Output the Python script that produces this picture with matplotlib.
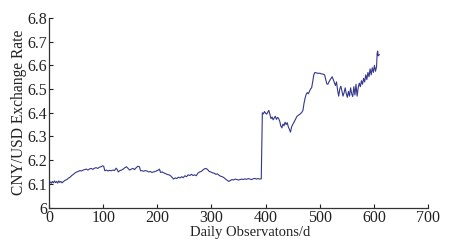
import matplotlib
matplotlib.use("Agg")
import matplotlib.pyplot as plt

days = [0, 2, 4, 6, 8, 10, 12, 14, 16, 18, 20, 22, 24, 26, 28, 30, 33, 36, 39, 42, 45, 48, 51, 54, 57, 60,
        63, 66, 69, 72, 75, 78, 81, 84, 87, 90, 93, 96, 99, 101, 103, 106, 109, 112, 115, 118, 121, 124, 126,
        128, 131, 134, 137, 140, 143, 146, 149, 152, 155, 158, 161, 164, 167, 169, 172, 175, 178, 181, 184,
        187, 190, 193, 196, 199, 202, 204, 206, 209, 212, 215, 218, 221, 224, 227, 230, 233, 236, 239, 242,
        245, 248, 251, 254, 257, 260, 263, 266, 269, 272, 275, 278, 281, 284, 287, 290, 293, 296, 299, 302,
        305, 308, 311, 314, 317, 320, 323, 326, 329, 332, 335, 338, 341, 344, 347, 350, 353, 356, 359, 362,
        365, 368, 371, 374, 377, 380, 383, 386, 389, 392, 393, 394, 396, 398, 400, 402, 404, 406, 408, 410,
        412, 414, 416, 418, 420, 422, 424, 426, 428, 430, 432, 434, 436, 438, 440, 442, 444, 446, 448, 450,
        452, 455, 458, 461, 464, 467, 469, 471, 473, 475, 477, 479, 481, 483, 485, 487, 489, 491, 494, 497,
        500, 503, 506, 509, 511, 513, 515, 517, 519, 521, 523, 525, 527, 529, 531, 533, 535, 537, 539, 541,
        543, 545, 547, 549, 551, 553, 555, 557, 559, 561, 563, 565, 567, 569, 571, 573, 575, 577, 579, 581,
        583, 585, 587, 589, 591, 593, 595, 597, 599, 601, 603, 605, 606, 607, 608, 610]
rates = [6.100, 6.108, 6.102, 6.110, 6.104, 6.112, 6.105, 6.110, 6.103, 6.112, 6.106, 6.110, 6.104, 6.108,
         6.112, 6.115, 6.118, 6.124, 6.128, 6.135, 6.140, 6.146, 6.150, 6.152, 6.156, 6.154, 6.158, 6.160,
         6.162, 6.158, 6.163, 6.165, 6.161, 6.166, 6.168, 6.165, 6.170, 6.172, 6.176, 6.174, 6.155, 6.158,
         6.154, 6.157, 6.155, 6.158, 6.156, 6.166, 6.160, 6.150, 6.156, 6.158, 6.162, 6.168, 6.172, 6.165,
         6.158, 6.162, 6.165, 6.160, 6.168, 6.174, 6.172, 6.155, 6.155, 6.153, 6.156, 6.154, 6.150, 6.152,
         6.148, 6.150, 6.152, 6.155, 6.158, 6.162, 6.148, 6.150, 6.146, 6.143, 6.140, 6.138, 6.135, 6.128,
         6.120, 6.125, 6.122, 6.128, 6.125, 6.130, 6.126, 6.134, 6.130, 6.138, 6.135, 6.140, 6.135, 6.138,
         6.134, 6.145, 6.150, 6.152, 6.158, 6.163, 6.165, 6.160, 6.152, 6.150, 6.146, 6.145, 6.140, 6.142,
         6.136, 6.132, 6.130, 6.126, 6.120, 6.115, 6.110, 6.114, 6.118, 6.116, 6.120, 6.118, 6.116, 6.118,
         6.120, 6.118, 6.121, 6.119, 6.122, 6.120, 6.118, 6.121, 6.123, 6.120, 6.122, 6.120, 6.121, 6.250,
         6.400, 6.395, 6.405, 6.398, 6.394, 6.402, 6.410, 6.392, 6.375, 6.382, 6.370, 6.378, 6.385, 6.372,
         6.380, 6.376, 6.365, 6.345, 6.336, 6.352, 6.345, 6.360, 6.350, 6.358, 6.340, 6.330, 6.318, 6.340,
         6.350, 6.358, 6.372, 6.385, 6.390, 6.395, 6.402, 6.410, 6.440, 6.462, 6.478, 6.485, 6.480, 6.490,
         6.500, 6.505, 6.530, 6.560, 6.570, 6.568, 6.566, 6.567, 6.564, 6.563, 6.560, 6.540, 6.522, 6.520,
         6.530, 6.538, 6.545, 6.552, 6.540, 6.528, 6.515, 6.530, 6.495, 6.470, 6.500, 6.512, 6.490, 6.470,
         6.485, 6.505, 6.480, 6.465, 6.490, 6.470, 6.505, 6.480, 6.468, 6.510, 6.475, 6.520, 6.470, 6.505,
         6.525, 6.510, 6.535, 6.520, 6.545, 6.530, 6.560, 6.540, 6.570, 6.552, 6.585, 6.560, 6.590, 6.570,
         6.600, 6.575, 6.595, 6.650, 6.660, 6.640, 6.645]

xticks = [0, 100, 200, 300, 400, 500, 600, 700]
yticks = [6.0, 6.1, 6.2, 6.3, 6.4, 6.5, 6.6, 6.7, 6.8]
ytick_labels = ["6", "6.1", "6.2", "6.3", "6.4", "6.5", "6.6", "6.7", "6.8"]

plt.rcParams['font.family'] = ['Liberation Serif', 'DejaVu Serif']

fig = plt.figure(figsize=(4.59, 2.46), dpi=100)
ax = fig.add_axes([0.1068, 0.1565, 0.8257, 0.7705])
ax.plot(days, rates, color='#34378c', linewidth=0.8)
ax.set_xlim(0, 700)
ax.set_ylim(6.0, 6.8)
ax.set_xticks(xticks)
ax.set_yticks(yticks)
ax.set_yticklabels(ytick_labels)
ax.tick_params(direction='in', length=3, width=0.8, labelsize=11.5, pad=0.5, colors='#222222')
ax.tick_params(axis='x', pad=2)
ax.tick_params(axis='y', pad=1.5)
for s in ['top', 'right']:
    ax.spines[s].set_visible(False)
for s in ['left', 'bottom']:
    ax.spines[s].set_linewidth(0.9)
    ax.spines[s].set_color('#333333')
ax.set_xlabel('Daily Observatons/d', fontsize=10.5, labelpad=0, color='#222222')
ax.set_ylabel('CNY/USD Exchange Rate', fontsize=11.2, labelpad=0, color='#222222')
ax.xaxis.set_label_coords(0.53, -0.1)
fig.savefig('out.png', dpi=100)
